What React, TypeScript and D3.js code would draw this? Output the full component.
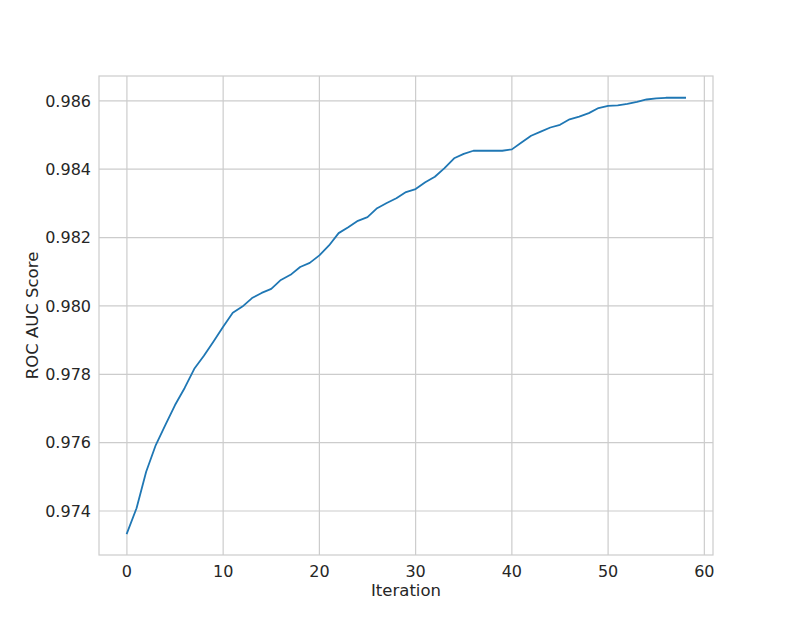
import React, { useEffect, useRef } from "react";
import * as d3 from "d3";

// ROC AUC score per boosting iteration
const iterations = d3.range(0, 59);
const rocAuc = [
  0.97335, 0.97408, 0.97515, 0.97593, 0.97652, 0.9771, 0.9776, 0.97816,
  0.97854, 0.97896, 0.97939, 0.9798, 0.97998, 0.98023, 0.98038, 0.9805,
  0.98076, 0.98091, 0.98114, 0.98126, 0.98148, 0.98177, 0.98213, 0.9823,
  0.98249, 0.9826, 0.98286, 0.98301, 0.98315, 0.98333, 0.98342, 0.98362,
  0.98378, 0.98403, 0.98432, 0.98445, 0.98454, 0.98454, 0.98454, 0.98454,
  0.98458, 0.98478, 0.98498, 0.9851, 0.98522, 0.9853, 0.98546, 0.98554,
  0.98564, 0.98579, 0.98585, 0.98587, 0.98591, 0.98597, 0.98604, 0.98607,
  0.98609, 0.98609, 0.98609,
];
const xTicks = [0, 10, 20, 30, 40, 50, 60];
const yTicks = [0.974, 0.976, 0.978, 0.98, 0.982, 0.984, 0.986];

const W = 793;
const H = 635;
const margin = { top: 76, right: 80, bottom: 80, left: 99 };

const App = () => {
  const svgRef = useRef<SVGSVGElement>(null);

  useEffect(() => {
    const svg = d3.select(svgRef.current);
    svg.selectAll("*").remove();

    const pad = (lo: number, hi: number) => {
      const m = (hi - lo) * 0.05;
      return [lo - m, hi + m];
    };
    const xExt = d3.extent(iterations) as [number, number];
    const yExt = d3.extent(rocAuc) as [number, number];

    const x = d3
      .scaleLinear()
      .domain(pad(xExt[0], xExt[1]))
      .range([margin.left, W - margin.right]);
    const y = d3
      .scaleLinear()
      .domain(pad(yExt[0], yExt[1]))
      .range([H - margin.bottom, margin.top]);

    const grid = "#cccccc";
    const textColor = "#262626";
    const font = "'DejaVu Sans', sans-serif";

    // grid lines
    svg
      .append("g")
      .selectAll("line.vx")
      .data(xTicks)
      .join("line")
      .attr("x1", (d) => x(d))
      .attr("x2", (d) => x(d))
      .attr("y1", margin.top)
      .attr("y2", H - margin.bottom)
      .attr("stroke", grid)
      .attr("stroke-width", 1.2);
    svg
      .append("g")
      .selectAll("line.hy")
      .data(yTicks)
      .join("line")
      .attr("x1", margin.left)
      .attr("x2", W - margin.right)
      .attr("y1", (d) => y(d))
      .attr("y2", (d) => y(d))
      .attr("stroke", grid)
      .attr("stroke-width", 1.2);

    // spines
    svg
      .append("rect")
      .attr("x", margin.left)
      .attr("y", margin.top)
      .attr("width", W - margin.right - margin.left)
      .attr("height", H - margin.bottom - margin.top)
      .attr("fill", "none")
      .attr("stroke", grid)
      .attr("stroke-width", 1.2);

    // the curve
    const line = d3
      .line<number>()
      .x((_, i) => x(iterations[i]))
      .y((d) => y(d));
    svg
      .append("path")
      .datum(rocAuc)
      .attr("d", line)
      .attr("fill", "none")
      .attr("stroke", "#1f77b4")
      .attr("stroke-width", 1.8)
      .attr("stroke-linejoin", "round")
      .attr("stroke-linecap", "square");

    // tick labels
    svg
      .append("g")
      .selectAll("text")
      .data(xTicks)
      .join("text")
      .attr("x", (d) => x(d))
      .attr("y", H - margin.bottom + 22)
      .attr("text-anchor", "middle")
      .attr("font-family", font)
      .attr("font-size", 16)
      .attr("fill", textColor)
      .text((d) => d);
    svg
      .append("g")
      .selectAll("text")
      .data(yTicks)
      .join("text")
      .attr("x", margin.left - 8)
      .attr("y", (d) => y(d))
      .attr("dy", "0.36em")
      .attr("text-anchor", "end")
      .attr("font-family", font)
      .attr("font-size", 16)
      .attr("fill", textColor)
      .text((d) => d3.format(".3f")(d));

    // axis labels
    svg
      .append("text")
      .attr("x", (margin.left + W - margin.right) / 2)
      .attr("y", H - margin.bottom + 41)
      .attr("text-anchor", "middle")
      .attr("font-family", font)
      .attr("font-size", 16.5)
      .attr("fill", textColor)
      .text("Iteration");
    svg
      .append("text")
      .attr("transform", `translate(38, ${(margin.top + H - margin.bottom) / 2}) rotate(-90)`)
      .attr("text-anchor", "middle")
      .attr("font-family", font)
      .attr("font-size", 16.5)
      .attr("fill", textColor)
      .text("ROC AUC Score");
  }, []);

  return (
    <div style={{ position: "fixed", left: 0, top: 0 }}>
      <svg ref={svgRef} width={W} height={H} style={{ display: "block", background: "#fff" }} />
    </div>
  );
};

export default App;
